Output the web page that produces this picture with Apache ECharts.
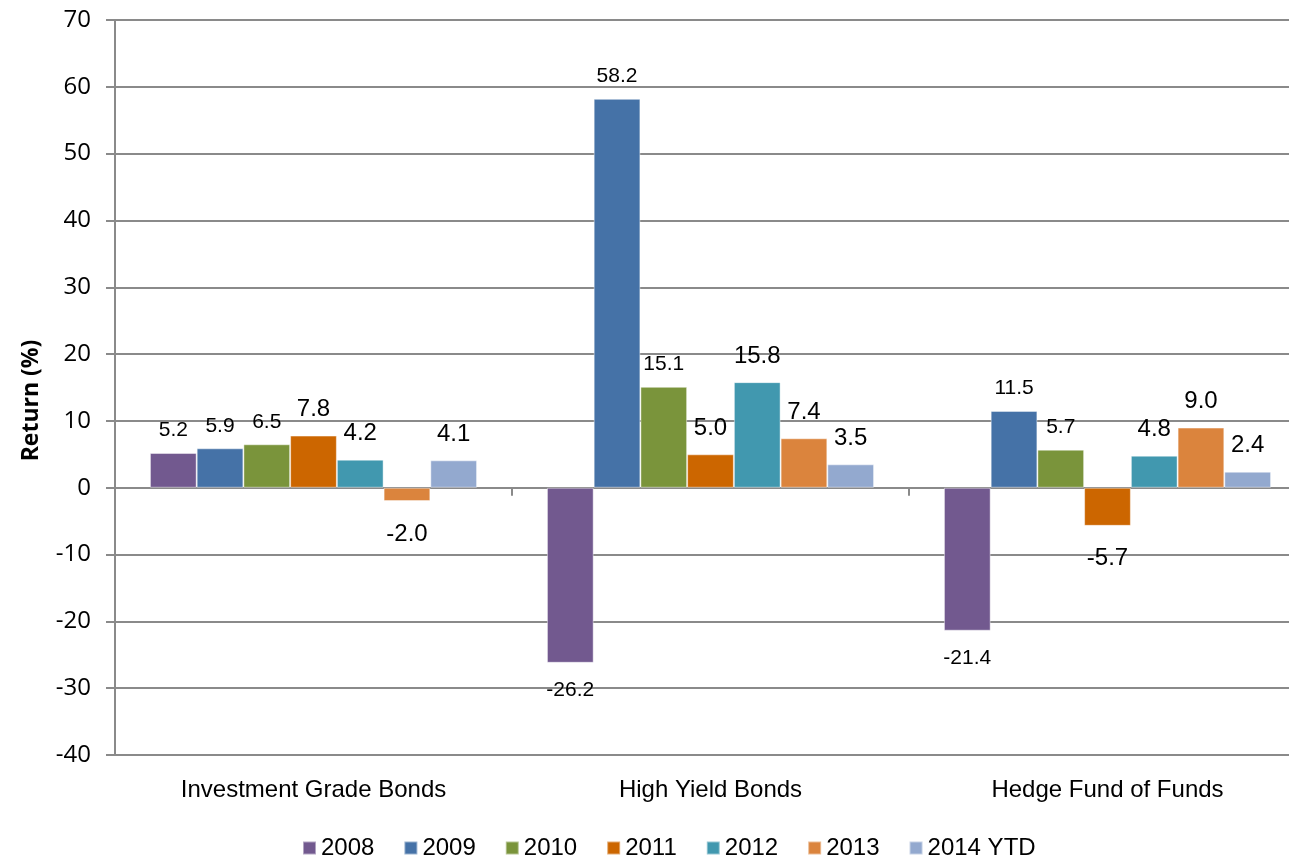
<!DOCTYPE html>
<html>
<head>
<meta charset="utf-8">
<script src="https://cdn.jsdelivr.net/npm/echarts@6/dist/echarts.min.js"></script>
<style>html,body{margin:0;padding:0;background:#fff;overflow:hidden}#c{width:1306px;height:858px}</style>
</head>
<body>
<div id="c"></div>
<script>
const categories = ['Investment Grade Bonds', 'High Yield Bonds', 'Hedge Fund of Funds'];
const seriesNames = ['2008', '2009', '2010', '2011', '2012', '2013', '2014 YTD'];
const v2008 = [5.2, -26.2, -21.4];
const v2009 = [5.9, 58.2, 11.5];
const v2010 = [6.5, 15.1, 5.7];
const v2011 = [7.8, 5.0, -5.7];
const v2012 = [4.2, 15.8, 4.8];
const v2013 = [-2.0, 7.4, 9.0];
const v2014 = [4.1, 3.5, 2.4];
const yTicks = [-40, -30, -20, -10, 0, 10, 20, 30, 40, 50, 60, 70];

const values = [v2008, v2009, v2010, v2011, v2012, v2013, v2014];
const colors = ['#72598F', '#4572A7', '#7A943B', '#CC6600', '#4198AF', '#DB843D', '#93A9CF'];
const labelSizes = [21, 21, 21, 24, 24, 24, 24];
const upDist = [12, 12, 12, 14, 14, 14, 14];
const downDist = [17, 17, 17, 21, 21, 21, 21];

const chart = echarts.init(document.getElementById('c'));
const series = seriesNames.map((name, i) => ({
  name: name,
  type: 'bar',
  barGap: '0%',
  barCategoryGap: '17.6%',
  itemStyle: { color: colors[i], borderColor: 'rgba(255,255,255,0.45)', borderWidth: 1 },
  label: {
    show: true,
    fontFamily: 'Liberation Sans, Arial, sans-serif',
    fontSize: labelSizes[i],
    color: '#000',
    formatter: p => p.value.toFixed(1)
  },
  data: values[i].map(v => ({
    value: v,
    label: { position: v < 0 ? 'bottom' : 'top', distance: v < 0 ? downDist[i] : upDist[i] }
  }))
}));

chart.setOption({
  animation: false,
  color: colors,
  grid: { left: 115, right: 0, top: 20, bottom: 103, containLabel: false },
  legend: {
    data: seriesNames,
    top: 831,
    left: 297,
    icon: 'rect',
    itemWidth: 13,
    itemHeight: 13,
    itemGap: 29,
    textStyle: { fontFamily: 'Liberation Sans, Arial, sans-serif', fontSize: 24, color: '#000' }
  },
  xAxis: {
    type: 'category',
    data: categories,
    axisLine: { onZero: true, lineStyle: { color: '#8a8a8a', width: 2 } },
    axisTick: { show: true, length: 8, lineStyle: { color: '#8a8a8a', width: 2 } },
    axisLabel: {
      interval: 0,
      margin: 23,
      fontFamily: 'Liberation Sans, Arial, sans-serif',
      fontSize: 24,
      color: '#000'
    },
    position: 'bottom'
  },
  yAxis: {
    type: 'value',
    min: yTicks[0],
    max: yTicks[yTicks.length - 1],
    interval: 10,
    name: 'Return (%)',
    nameLocation: 'middle',
    nameGap: 72,
    nameTextStyle: { fontFamily: 'Open Sans, sans-serif', fontWeight: 'bold', fontSize: 23, color: '#000', padding: [0, 26, 0, 0] },
    axisLine: { show: true, lineStyle: { color: '#8a8a8a', width: 2 } },
    axisTick: { show: true, length: 9, lineStyle: { color: '#8a8a8a', width: 2 } },
    axisLabel: { margin: 24, fontFamily: 'Open Sans, sans-serif', fontSize: 24, color: '#000' },
    splitLine: { show: true, lineStyle: { color: '#8a8a8a', width: 2 } }
  },
  series: series
});
</script>
</body>
</html>
